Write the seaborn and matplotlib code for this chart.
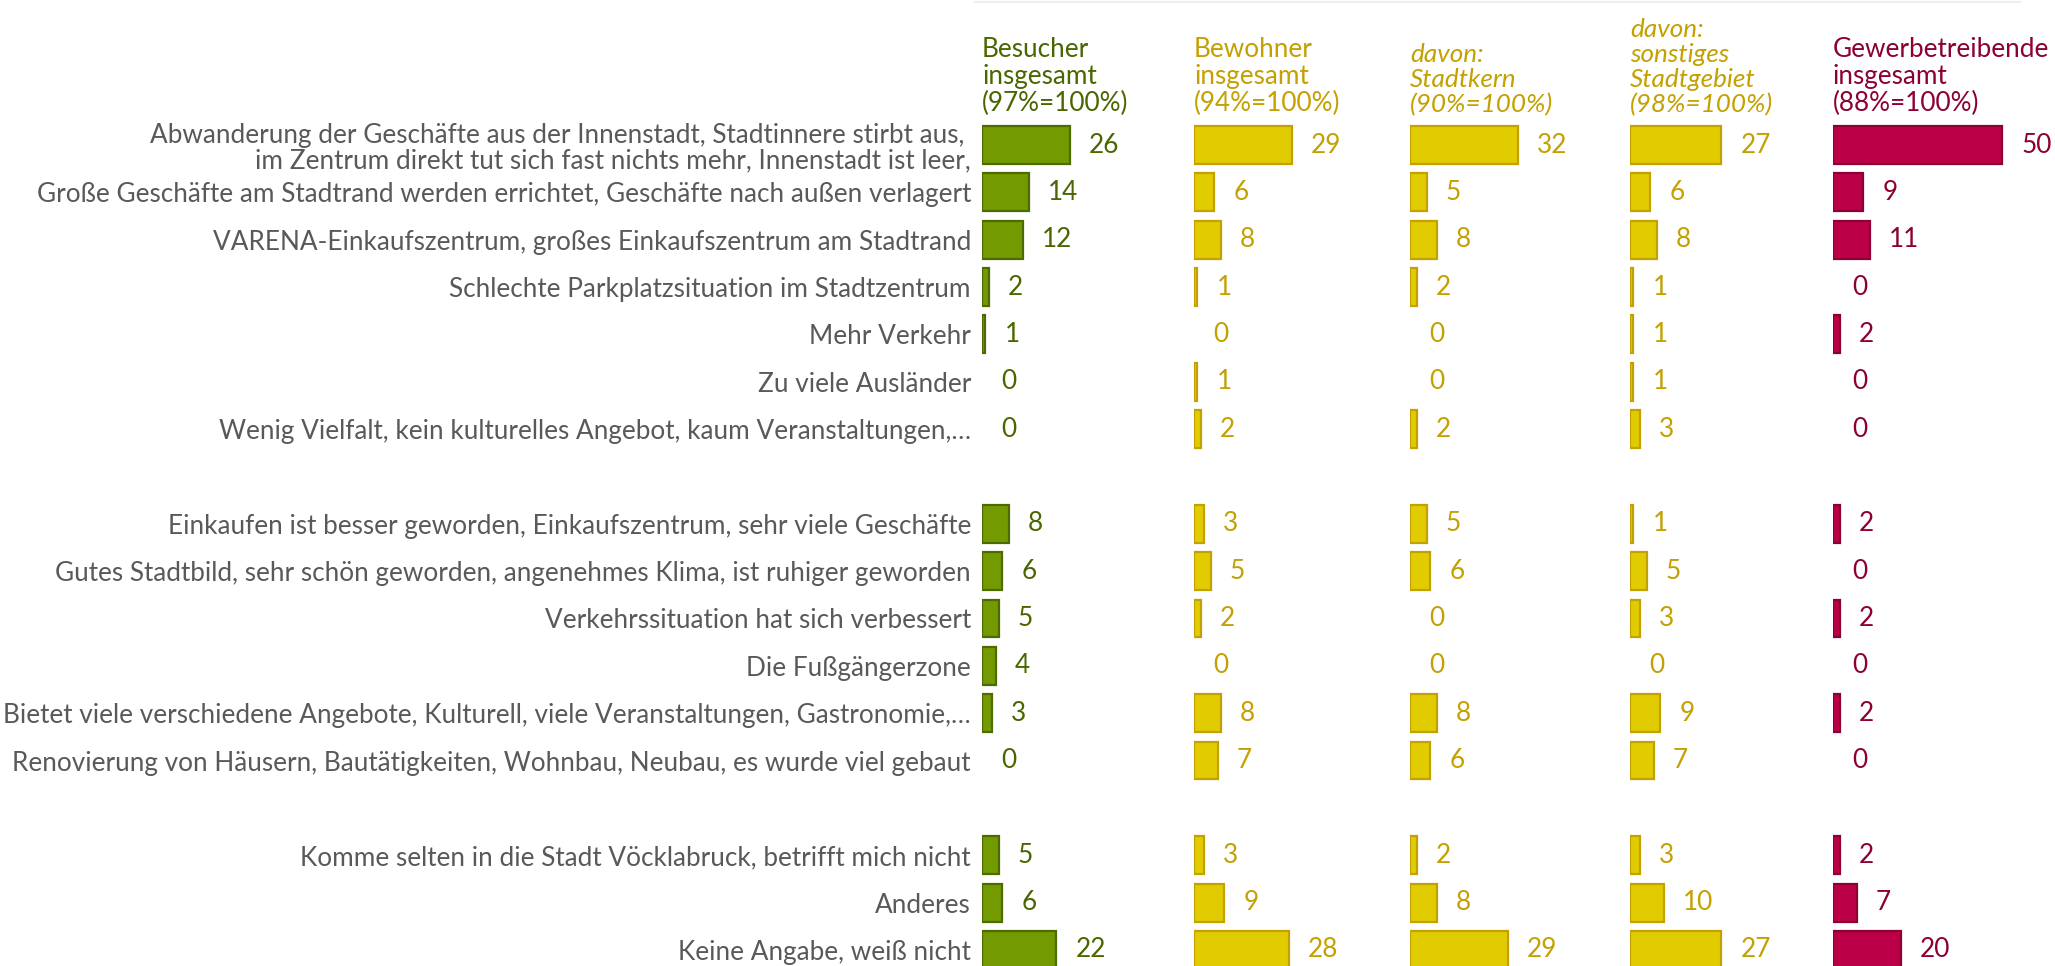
import pandas as pd
import matplotlib.pyplot as plt
from matplotlib.lines import Line2D
import seaborn as sns

# Data
labels = [
    "Abwanderung der Geschäfte aus der Innenstadt, Stadtinnere stirbt aus, \n"
    "im Zentrum direkt tut sich fast nichts mehr, Innenstadt ist leer,",
    "Große Geschäfte am Stadtrand werden errichtet, Geschäfte nach außen verlagert",
    "VARENA-Einkaufszentrum, großes Einkaufszentrum am Stadtrand",
    "Schlechte Parkplatzsituation im Stadtzentrum",
    "Mehr Verkehr",
    "Zu viele Ausländer",
    "Wenig Vielfalt, kein kulturelles Angebot, kaum Veranstaltungen,…",
    "Einkaufen ist besser geworden, Einkaufszentrum, sehr viele Geschäfte",
    "Gutes Stadtbild, sehr schön geworden, angenehmes Klima, ist ruhiger geworden",
    "Verkehrssituation hat sich verbessert",
    "Die Fußgängerzone",
    "Bietet viele verschiedene Angebote, Kulturell, viele Veranstaltungen, Gastronomie,…",
    "Renovierung von Häusern, Bautätigkeiten, Wohnbau, Neubau, es wurde viel gebaut",
    "Komme selten in die Stadt Vöcklabruck, betrifft mich nicht",
    "Anderes",
    "Keine Angabe, weiß nicht",
]
group_sizes = [7, 6, 3]

besucher = [26, 14, 12, 2, 1, 0, 0, 8, 6, 5, 4, 3, 0, 5, 6, 22]
bewohner = [29, 6, 8, 1, 0, 1, 2, 3, 5, 2, 0, 8, 7, 3, 9, 28]
stadtkern = [32, 5, 8, 2, 0, 0, 2, 5, 6, 0, 0, 8, 6, 2, 8, 29]
sonstiges = [27, 6, 8, 1, 1, 1, 3, 1, 5, 3, 0, 9, 7, 3, 10, 27]
gewerbe = [50, 9, 11, 0, 2, 0, 0, 2, 0, 2, 0, 2, 0, 2, 7, 20]

headers = [
    "Besucher\ninsgesamt\n(97%=100%)",
    "Bewohner\ninsgesamt\n(94%=100%)",
    "davon:\nStadtkern\n(90%=100%)",
    "davon:\nsonstiges\nStadtgebiet\n(98%=100%)",
    "Gewerbetreibende\ninsgesamt\n(88%=100%)",
]

df = pd.DataFrame({"label": labels, "c0": besucher, "c1": bewohner,
                   "c2": stadtkern, "c3": sonstiges, "c4": gewerbe})

# category order with blank spacer rows between groups
order = []
start = 0
for g, n in enumerate(group_sizes):
    order += labels[start:start + n]
    start += n
    if g < len(group_sizes) - 1:
        order.append(" " * (g + 1))

# Styling
GREEN = ("#739a00", "#4e6b00", "#4a6600")
GOLD = ("#e0cc00", "#c4a000", "#c4a000")
RED = ("#bc0048", "#8c0036", "#8c0036")
col_styles = [GREEN, GOLD, GOLD, GOLD, RED]
col_italic = [False, False, True, True, False]
col_left_px = [982, 1194, 1410, 1630, 1833]

W, H = 2055, 966
px_per_unit = 3.38
xmax = 59
row_h = 47.35
top_px = 145 - row_h / 2
bot_px = top_px + row_h * len(order)

sns.set_theme(style="white")
plt.rcParams['font.family'] = ['Lato', 'DejaVu Sans']
FS = 18.8

fig = plt.figure(figsize=(W / 100, H / 100), dpi=100)

for k in range(5):
    fill, edge, txt = col_styles[k]
    ax = fig.add_axes([col_left_px[k] / W, (H - bot_px) / H,
                       xmax * px_per_unit / W, (bot_px - top_px) / H])
    sns.barplot(data=df, x=f"c{k}", y="label", order=order, orient="h",
                color=fill, edgecolor=edge, linewidth=1.6, saturation=1,
                width=0.8, ax=ax)
    for p in ax.patches:
        if p.get_width() == 0:
            p.set_visible(False)
    ax.set_xlim(0, xmax)
    ax.set_ylim(len(order) - 0.5, -0.5)
    ax.set_xlabel("")
    ax.set_ylabel("")
    ax.set_xticks([])
    for s in ax.spines.values():
        s.set_visible(False)
    if k == 0:
        ax.tick_params(axis="y", length=0, pad=8, labelsize=FS, labelcolor="#595959")
        for t in ax.get_yticklabels():
            t.set_linespacing(1.05)
    else:
        ax.tick_params(axis="y", left=False, labelleft=False)

    # value labels
    for lab, v in zip(labels, df[f"c{k}"]):
        ax.annotate(f"{v}", xy=(v, order.index(lab)), xytext=(19, 0),
                    textcoords="offset pixels", ha="left", va="center",
                    fontsize=FS, color=txt, annotation_clip=False)

    # column header
    ax.annotate(headers[k], xy=(0, 1), xycoords="axes fraction",
                xytext=(0, 5), textcoords="offset pixels", ha="left", va="bottom",
                fontsize=FS, color=txt, style="italic" if col_italic[k] else "normal",
                linespacing=1.1)

# faint frame line at the top
fig.add_artist(Line2D([975 / W, 2020 / W], [1 - 1.5 / H, 1 - 1.5 / H],
                      color="#eeeeee", linewidth=1.5))

fig.savefig("out.png", dpi=100)
